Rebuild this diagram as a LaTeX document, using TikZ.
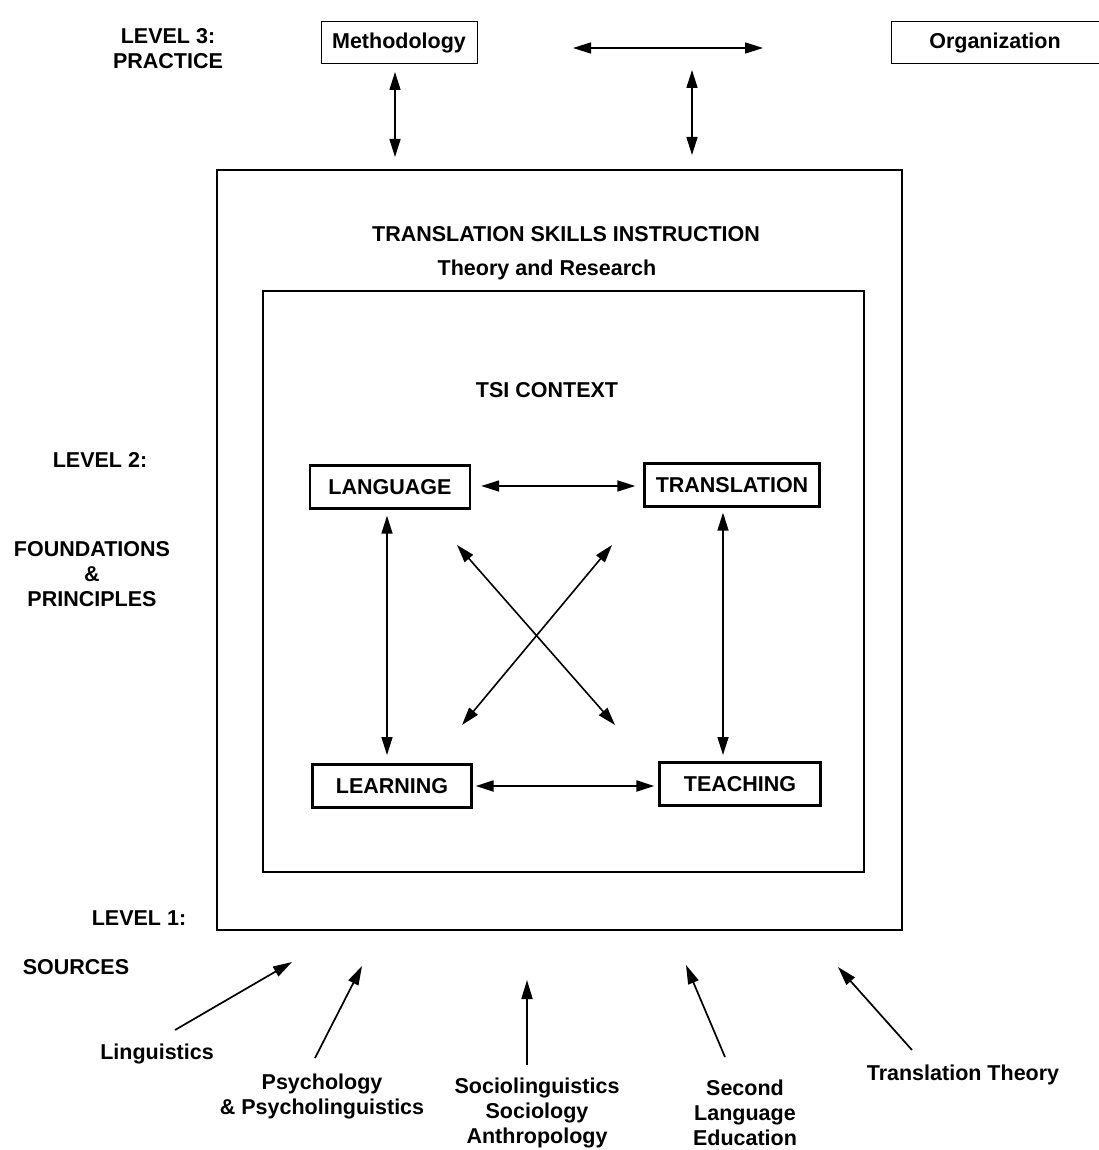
\documentclass[tikz,border=0pt]{standalone}
\usepackage{fontspec}
\setmainfont{Liberation Sans}
\usetikzlibrary{arrows.meta}
\begin{document}
\begin{tikzpicture}[x=1pt,y=-1pt,
  lbl/.style={font=\fontsize{21.5}{25}\selectfont\bfseries, align=center, inner sep=0pt},
  concept/.style={lbl, draw, line width=2.4pt, minimum height=43pt, inner sep=0pt},
  topbox/.style={lbl, draw, line width=1pt, minimum height=42pt, inner sep=0pt},
  tip/.style={Triangle[length=18pt,width=11pt]},
  link/.style={line width=1.6pt, {Triangle[length=18pt,width=11pt]}-{Triangle[length=18pt,width=11pt]}},
  feed/.style={line width=1.7pt, -{Triangle[length=19pt,width=11pt]}}
]
\useasboundingbox (0,0) rectangle (1099,1150);

% Level 3: practice
\node[lbl] (lvl3) at (168,49) {LEVEL 3:\\PRACTICE};
\node[topbox, minimum width=156pt] (meth) at (399,43) {Methodology};
\node[topbox, minimum width=208pt] (org) at (995,43) {Organization};
\coordinate (hl) at (573,48);
\coordinate (hr) at (763,48);
\draw[link] (hl) -- (hr);
\coordinate (m1) at (395,72);
\coordinate (m2) at (395,157);
\draw[link] (m1) -- (m2);
\coordinate (o1) at (692,70);
\coordinate (o2) at (692,155);
\draw[link] (o1) -- (o2);

% Level 2: foundations & principles
\node[draw, line width=1.3pt, minimum width=685pt, minimum height=760pt] (outer) at (559.5,550) {};
\node[lbl] (tsi) at (566,234) {TRANSLATION SKILLS INSTRUCTION};
\node[lbl] (theory) at (547,270) {Theory and Research};
\node[draw, line width=2.6pt, minimum width=601pt, minimum height=581pt] (inner) at (563.5,581.5) {};
\node[lbl] (ctx) at (547,390) {TSI CONTEXT};

\node[lbl] (lvl2) at (100,460) {LEVEL 2:};
\node[lbl] (found) at (92,574) {FOUNDATIONS\\\&\\PRINCIPLES};

\node[concept, minimum width=160pt] (lang) at (390,487) {LANGUAGE};
\node[concept, minimum width=175pt] (trans) at (732,485) {TRANSLATION};
\node[concept, minimum width=159pt] (learn) at (392,786) {LEARNING};
\node[concept, minimum width=161pt] (teach) at (740,784) {TEACHING};

\draw[link] ([xshift=10pt]lang.east |- 0,486) -- ([xshift=-8pt]trans.west |- 0,486);
\draw[link] (lang.south -| 387,0) ++(0,6) -- (387,755);
\draw[link] (trans.south -| 723,0) ++(0,5) -- (723,755);
\draw[link, line width=2.2pt] ([xshift=3pt]learn.east |- 0,786) -- ([xshift=-4pt]teach.west |- 0,786);
\coordinate (d1a) at (457,545);
\coordinate (d1b) at (615,725);
\coordinate (d2a) at (612,545);
\coordinate (d2b) at (462,725);
\draw[link] (d1a) -- (d1b);
\draw[link] (d2a) -- (d2b);

% Level 1: sources
\node[lbl] (lvl1) at (139,918) {LEVEL 1:};
\node[lbl] (src) at (76,967) {SOURCES};

\node[lbl] (ling) at (157,1054) {Linguistics};
\node[lbl] (psy) at (322,1096) {Psychology\\\& Psycholinguistics};
\node[lbl, anchor=north] (soc) at (537,1078) {Sociolinguistics\\Sociology\\Anthropology};
\node[lbl, anchor=north] (sle) at (745,1080) {Second\\Language\\Education};
\node[lbl] (tt) at (963,1075) {Translation Theory};

\coordinate (s1) at (292,962);
\coordinate (s2) at (362,966);
\coordinate (s3) at (527,980);
\coordinate (s4) at (686,965);
\coordinate (s5) at (838,967);
\draw[feed] (175,1030) -- (s1);
\draw[feed] (315,1058) -- (s2);
\draw[feed] (527,1065) -- (s3);
\draw[feed] (725,1057) -- (s4);
\draw[feed] (912,1050) -- (s5);
\end{tikzpicture}
\end{document}
